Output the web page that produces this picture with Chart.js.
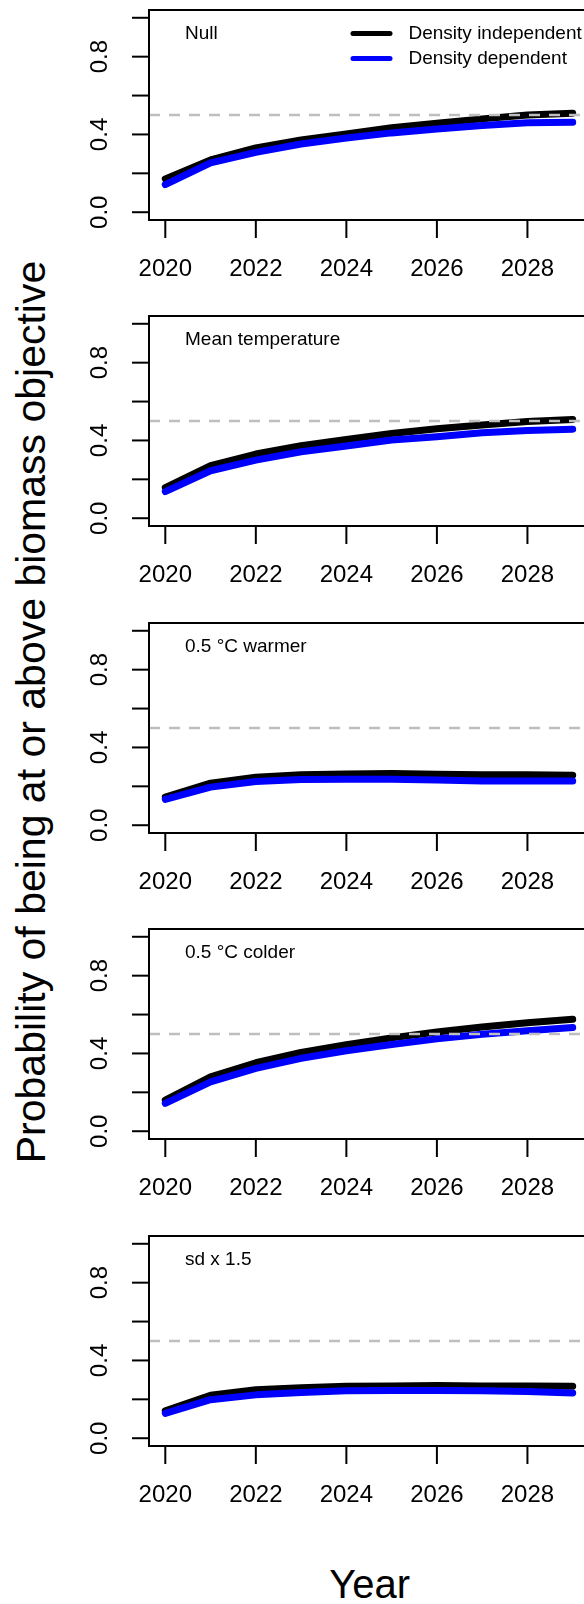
<!DOCTYPE html>
<html>
<head>
<meta charset="utf-8">
<script src="https://cdn.jsdelivr.net/npm/chart.js@4.4.1/dist/chart.umd.min.js"></script>
<style>
  html, body { margin: 0; padding: 0; background: #fff; }
  body { width: 584px; height: 1604px; position: relative; overflow: hidden; font-family: "Liberation Sans", Arial, sans-serif; }
  canvas.panel { position: absolute; left: 0; }
  .axis-title { position: absolute; white-space: nowrap; line-height: 1; color: #000; transform: translate(-50%, -50%); }
  #ytitle { left: 30.5px; top: 711.5px; font-size: 41px; transform: translate(-50%, -50%) rotate(-90deg); }
  #xtitle { left: 369.6px; top: 1583.5px; font-size: 40px; }
</style>
</head>
<body>
<div id="ytitle" class="axis-title">Probability of being at or above biomass objective</div>
<div id="xtitle" class="axis-title">Year</div>
<script>
// projection years and scenario names
var years = [2020, 2021, 2022, 2023, 2024, 2025, 2026, 2027, 2028, 2029];
var scenarios = ['Null', 'Mean temperature', '0.5 \u00b0C warmer', '0.5 \u00b0C colder', 'sd x 1.5'];
var seriesNames = ['Density independent', 'Density dependent'];

// probability of B >= objective, per scenario
var nullIndep = [0.171, 0.269, 0.331, 0.372, 0.403, 0.435, 0.458, 0.480, 0.500, 0.509];
var nullDep   = [0.142, 0.254, 0.308, 0.351, 0.382, 0.408, 0.428, 0.446, 0.460, 0.463];
var meanIndep = [0.157, 0.270, 0.330, 0.373, 0.405, 0.436, 0.460, 0.480, 0.497, 0.508];
var meanDep   = [0.137, 0.244, 0.299, 0.342, 0.371, 0.402, 0.419, 0.439, 0.451, 0.458];
var warmIndep = [0.145, 0.216, 0.247, 0.260, 0.264, 0.266, 0.262, 0.260, 0.259, 0.257];
var warmDep   = [0.133, 0.196, 0.225, 0.235, 0.237, 0.237, 0.233, 0.228, 0.227, 0.227];
var coldIndep = [0.160, 0.280, 0.352, 0.405, 0.445, 0.480, 0.510, 0.536, 0.558, 0.576];
var coldDep   = [0.143, 0.254, 0.323, 0.375, 0.414, 0.446, 0.475, 0.499, 0.517, 0.533];
var sdIndep   = [0.141, 0.221, 0.249, 0.260, 0.267, 0.269, 0.271, 0.269, 0.269, 0.267];
var sdDep     = [0.128, 0.198, 0.223, 0.235, 0.244, 0.245, 0.245, 0.244, 0.240, 0.233];

var indepSeries = [nullIndep, meanIndep, warmIndep, coldIndep, sdIndep];
var depSeries = [nullDep, meanDep, warmDep, coldDep, sdDep];

// axis ticks
var xTicks = [2020, 2022, 2024, 2026, 2028];
var yTicks = [0, 0.2, 0.4, 0.6, 0.8, 1.0];
var yLabelTicks = [0, 0.4, 0.8];
var yLabels = ['0.0', '0.4', '0.8'];
var objective = 0.5;

var FONT = '"Liberation Sans", Arial, sans-serif';
var CW = 640, CH = 306, STEP = 306.4;

function points(vals) {
  return years.map(function (yr, i) { return { x: yr, y: vals[i] }; });
}

// base-graphics style frame, ticks, labels, dashed reference line and legend
function rStyle(title, withLegend) {
  return {
    id: 'rStyle',
    afterDatasetsDraw: function (chart) {
      var ctx = chart.ctx, a = chart.chartArea;
      var y = chart.scales.y.getPixelForValue(objective);
      ctx.save();
      ctx.strokeStyle = '#bebebe';
      ctx.lineWidth = 2.5;
      ctx.setLineDash([11, 9]);
      ctx.beginPath();
      ctx.moveTo(a.left, y);
      ctx.lineTo(a.right, y);
      ctx.stroke();
      ctx.restore();
    },
    afterDraw: function (chart) {
      var ctx = chart.ctx, a = chart.chartArea;
      var xs = chart.scales.x, ys = chart.scales.y;
      ctx.save();
      ctx.strokeStyle = '#000';
      ctx.fillStyle = '#000';
      ctx.lineWidth = 2;
      ctx.strokeRect(a.left, a.top, a.right - a.left, a.bottom - a.top);

      // y axis
      yTicks.forEach(function (v) {
        var p = ys.getPixelForValue(v);
        ctx.beginPath();
        ctx.moveTo(a.left - 17, p);
        ctx.lineTo(a.left, p);
        ctx.stroke();
      });
      ctx.font = '24px ' + FONT;
      ctx.textAlign = 'center';
      ctx.textBaseline = 'middle';
      yLabelTicks.forEach(function (v, i) {
        var p = ys.getPixelForValue(v);
        ctx.save();
        ctx.translate(100, p);
        ctx.rotate(-Math.PI / 2);
        ctx.fillText(yLabels[i], 0, 0);
        ctx.restore();
      });

      // x axis
      xTicks.forEach(function (v) {
        var p = xs.getPixelForValue(v);
        ctx.beginPath();
        ctx.moveTo(p, a.bottom);
        ctx.lineTo(p, a.bottom + 18);
        ctx.stroke();
        ctx.fillText(String(v), p, a.bottom + 49);
      });

      // scenario name
      ctx.font = '19px ' + FONT;
      ctx.textAlign = 'left';
      ctx.fillText(title, 185, a.top + 24);

      if (withLegend) {
        chart.data.datasets.forEach(function (ds, i) {
          var ly = a.top + 23.5 + i * 25;
          ctx.strokeStyle = ds.borderColor;
          ctx.lineWidth = 5;
          ctx.lineCap = 'round';
          ctx.beginPath();
          ctx.moveTo(353, ly);
          ctx.lineTo(390, ly);
          ctx.stroke();
          ctx.fillText(ds.label, 408.5, ly);
        });
      }
      ctx.restore();
    }
  };
}

scenarios.forEach(function (name, k) {
  var cv = document.createElement('canvas');
  cv.className = 'panel';
  cv.width = CW;
  cv.height = CH;
  cv.style.top = Math.round(STEP * k) + 'px';
  cv.style.width = CW + 'px';
  cv.style.height = CH + 'px';
  document.body.appendChild(cv);

  new Chart(cv, {
    type: 'line',
    data: {
      datasets: [{
        label: seriesNames[0],
        data: points(indepSeries[k]),
        borderColor: '#000000',
        borderWidth: 7,
        order: 2
      }, {
        label: seriesNames[1],
        data: points(depSeries[k]),
        borderColor: '#0000ff',
        borderWidth: 7,
        order: 1
      }]
    },
    options: {
      responsive: false,
      animation: false,
      events: [],
      devicePixelRatio: 1,
      layout: { padding: { left: 149, right: CW - 589, top: 10, bottom: CH - 10 - 210 } },
      scales: {
        x: { type: 'linear', min: 2019.64, max: 2029.36, display: false },
        y: { type: 'linear', min: -0.04, max: 1.04, display: false }
      },
      elements: {
        point: { radius: 0 },
        line: { tension: 0, borderCapStyle: 'round', borderJoinStyle: 'round', fill: false }
      },
      plugins: { legend: { display: false }, tooltip: { enabled: false } }
    },
    plugins: [rStyle(name, k === 0)]
  });
});
</script>
</body>
</html>
